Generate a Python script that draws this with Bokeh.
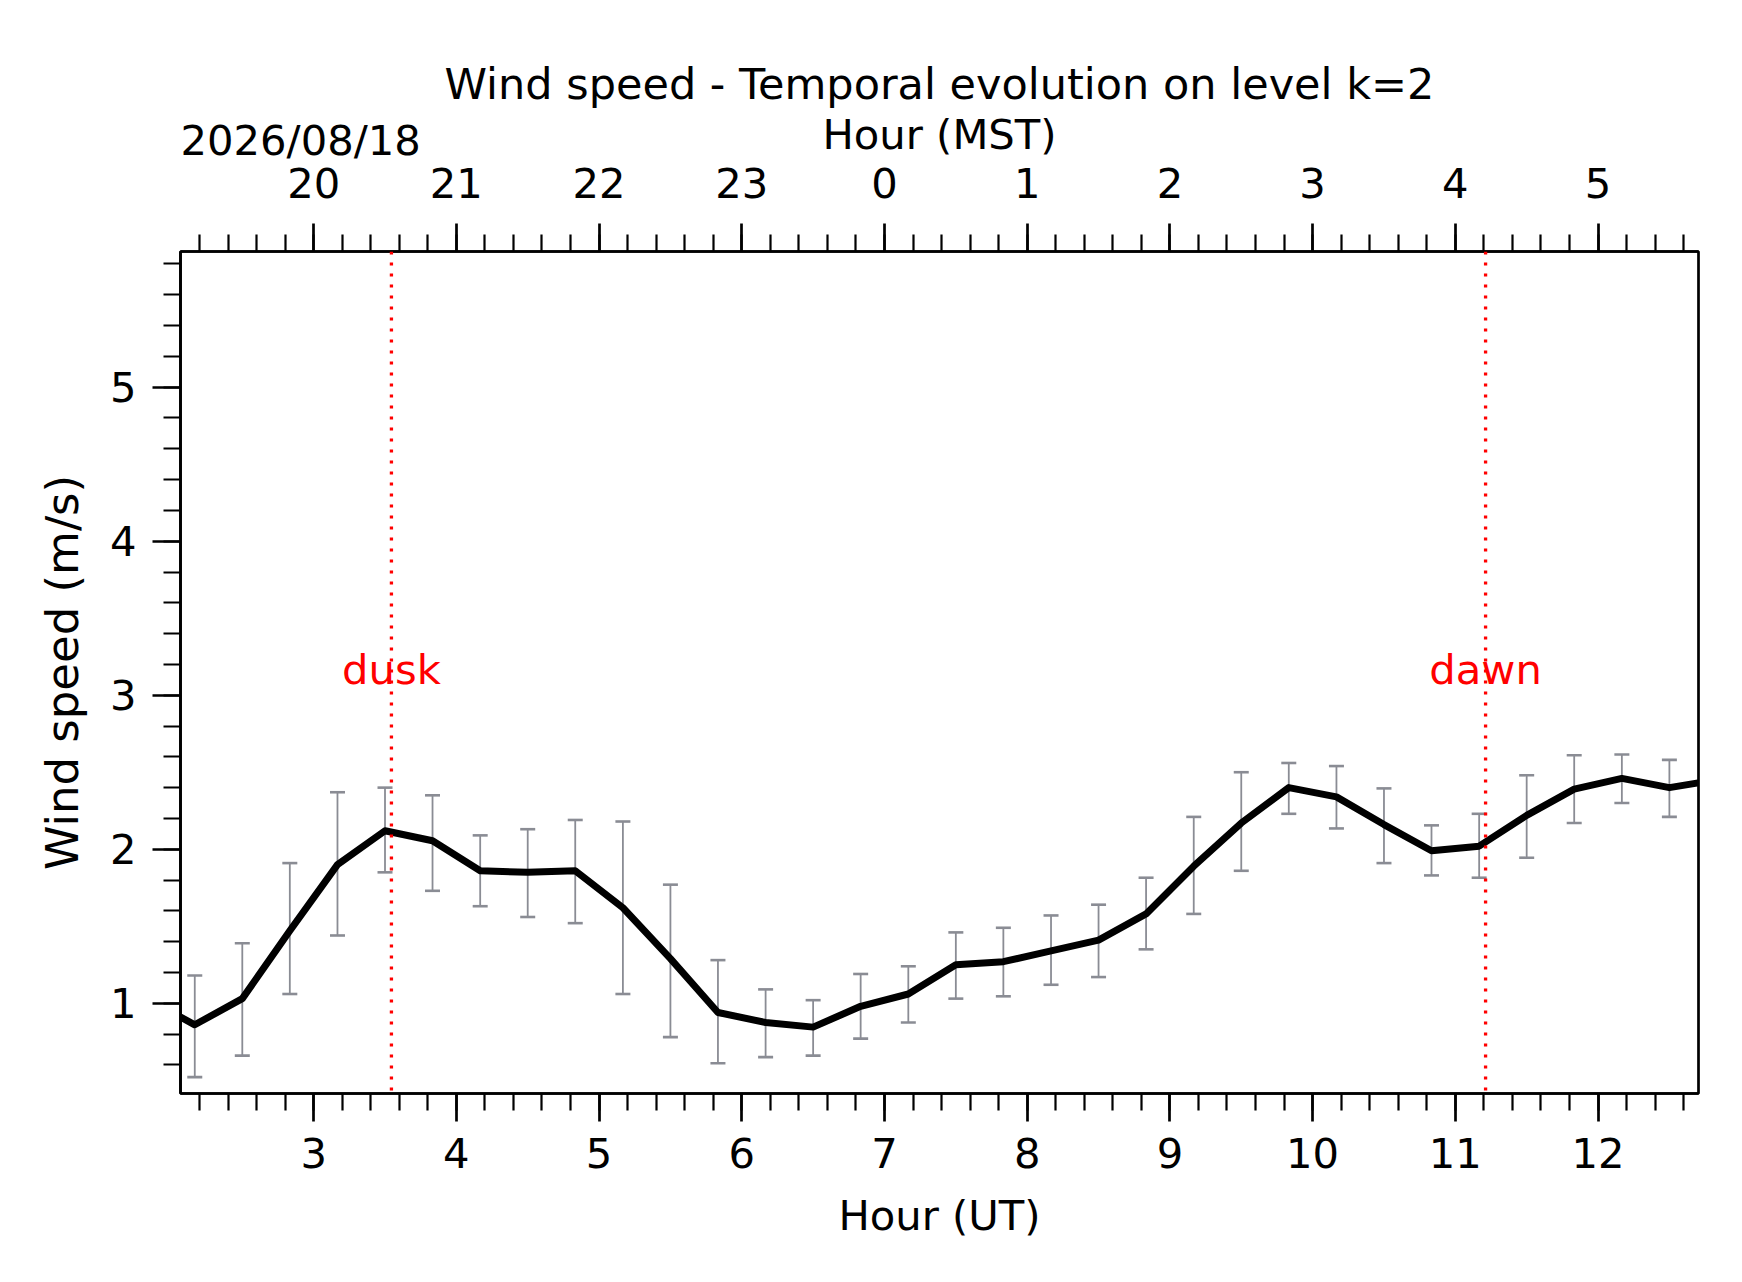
import numpy as np
from bokeh.plotting import figure
from bokeh.models import (Range1d, LinearAxis, FixedTicker, Whisker, TeeHead, Span,
                          Label, ColumnDataSource)
from bokeh.core.properties import value
from bokeh.embed import file_html
from bokeh.resources import INLINE

# ---------------- data ----------------
ut_hours = [1.833, 2.167, 2.5, 2.833, 3.167, 3.5, 3.833, 4.167, 4.5, 4.833,
            5.167, 5.5, 5.833, 6.167, 6.5, 6.833, 7.167, 7.5, 7.833, 8.167,
            8.5, 8.833, 9.167, 9.5, 9.833, 10.167, 10.5, 10.833, 11.167, 11.5,
            11.833, 12.167, 12.5, 12.833]
wind_speed = [1.03, 0.86, 1.03, 1.47, 1.90, 2.12, 2.055, 1.86, 1.85, 1.86,
              1.62, 1.29, 0.94, 0.875, 0.845, 0.98, 1.06, 1.25, 1.27, 1.34,
              1.41, 1.58, 1.89, 2.17, 2.40, 2.34, 2.16, 1.99, 2.02, 2.22,
              2.39, 2.46, 2.40, 2.45]
err_upper = [1.35, 1.18, 1.39, 1.91, 2.37, 2.40, 2.35, 2.09, 2.13, 2.19,
             2.18, 1.77, 1.28, 1.09, 1.02, 1.19, 1.24, 1.46, 1.49, 1.57,
             1.64, 1.815, 2.21, 2.50, 2.56, 2.54, 2.395, 2.155, 2.23, 2.48,
             2.61, 2.615, 2.58, 2.65]
err_lower = [0.70, 0.52, 0.66, 1.06, 1.44, 1.85, 1.73, 1.63, 1.56, 1.52,
             1.06, 0.78, 0.61, 0.65, 0.66, 0.77, 0.875, 1.03, 1.045, 1.12,
             1.17, 1.35, 1.58, 1.86, 2.23, 2.135, 1.91, 1.83, 1.815, 1.945,
             2.17, 2.30, 2.21, 2.25]

ut_ticks = [3, 4, 5, 6, 7, 8, 9, 10, 11, 12]
mst_labels = ["20", "21", "22", "23", "0", "1", "2", "3", "4", "5"]
y_ticks = [1, 2, 3, 4, 5]

dusk_ut = 3.545
dawn_ut = 11.212
date_text = "2026/08/18"

# ---------------- layout / style ----------------
X0, X1 = 2.067, 12.704
Y0, Y1 = 0.414, 5.881
FONT = "DejaVu Sans"
FS = "41.7px"
GRAY = "#8a8c94"

W, H = 1730, 1270
FL, FR, FT, FB = 180, 32, 251, 177

p = figure(width=W, height=H, output_backend="svg", toolbar_location=None,
           x_range=Range1d(X0, X1), y_range=Range1d(Y0, Y1),
           min_border_left=FL, min_border_right=FR,
           min_border_top=FT, min_border_bottom=FB,
           background_fill_color="white", border_fill_color="white")

p.xgrid.visible = False
p.ygrid.visible = False
p.outline_line_color = "black"
p.outline_line_width = 2.7


def style_axis(ax):
    ax.axis_line_width = 2.7
    ax.axis_line_color = "black"
    ax.major_tick_line_width = 2.7
    ax.minor_tick_line_width = 2.2
    ax.major_tick_line_color = "black"
    ax.minor_tick_line_color = "black"
    ax.major_tick_out = 28
    ax.major_tick_in = 0
    ax.minor_tick_out = 17
    ax.minor_tick_in = 0
    ax.major_label_text_font = FONT
    ax.major_label_text_font_size = FS
    ax.major_label_text_color = "black"
    ax.axis_label_text_font = FONT
    ax.axis_label_text_font_size = FS
    ax.axis_label_text_font_style = "normal"
    ax.axis_label_text_color = "black"


x_minor = [round(v, 1) for v in np.arange(2.2, 12.7, 0.2)]
y_minor = [round(v, 1) for v in np.arange(0.6, 5.9, 0.2)]

xa = p.xaxis[0]
xa.ticker = FixedTicker(ticks=ut_ticks, minor_ticks=x_minor)
xa.axis_label = "Hour (UT)"
style_axis(xa)
xa.major_label_standoff = 16
xa.axis_label_standoff = 20

ya = p.yaxis[0]
ya.ticker = FixedTicker(ticks=y_ticks, minor_ticks=y_minor)
ya.axis_label = "Wind speed (m/s)"
style_axis(ya)
ya.axis_label_text_font_size = "45px"
ya.major_label_standoff = 16
ya.axis_label_standoff = 18

top = LinearAxis(ticker=FixedTicker(ticks=ut_ticks, minor_ticks=x_minor),
                 axis_label="Hour (MST)",
                 major_label_overrides={t: s for t, s in zip(ut_ticks, mst_labels)})
style_axis(top)
top.major_label_standoff = 26
top.axis_label_standoff = 6
p.add_layout(top, "above")

p.title.text = "Wind speed - Temporal evolution on level k=2"
p.title.align = "center"
p.title.text_font = FONT
p.title.text_font_size = "43px"
p.title.text_font_style = "normal"
p.title.text_color = "black"
p.title.standoff = -5

# ---------------- error bars (visible points only) ----------------
vis = [i for i, t in enumerate(ut_hours) if X0 <= t <= X1]
err_src = ColumnDataSource(dict(x=[ut_hours[i] for i in vis],
                                upper=[err_upper[i] for i in vis],
                                lower=[err_lower[i] for i in vis]))
whisk = Whisker(source=err_src, base="x", upper="upper", lower="lower",
                line_color=GRAY, line_width=1.8, level="underlay",
                upper_head=TeeHead(size=15, line_color=GRAY, line_width=2.6),
                lower_head=TeeHead(size=15, line_color=GRAY, line_width=2.6))
p.add_layout(whisk)

# ---------------- main line ----------------
p.line(ut_hours, wind_speed, line_color="black", line_width=7, line_join="round")

# ---------------- dusk / dawn ----------------
for t, name in [(dusk_ut, "dusk"), (dawn_ut, "dawn")]:
    p.add_layout(Label(x=t, y=3.167, text=name, text_align="center",
                       text_baseline="middle", text_color="#ff0000",
                       text_font=FONT, text_font_size=FS))
for t in [dusk_ut, dawn_ut]:
    p.add_layout(Span(location=t, dimension="height", line_color="#ff0000",
                      line_width=3.3, line_dash="3 8"))

# date text, anchored at the frame's top-left corner and offset above it
p.text(x=[X0], y=[Y1], text=[date_text], x_offset=0, y_offset=-111.5,
       text_align="left", text_baseline="middle", text_color="black",
       text_font=value(FONT), text_font_size=FS, level="overlay")

open("out.html", "w").write(file_html(p, INLINE))
